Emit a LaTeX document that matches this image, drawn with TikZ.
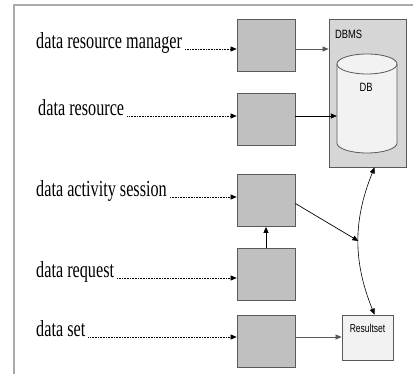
\documentclass[tikz,border=0pt]{standalone}
\usepackage{fontspec}
\setmainfont{Liberation Serif}
\newfontfamily\narrowsans{Liberation Sans}
\usetikzlibrary{positioning,arrows.meta}

\definecolor{boxgray}{RGB}{192,192,192}
\definecolor{dbmsgray}{RGB}{214,214,214}
\definecolor{palegray}{RGB}{242,242,242}
\definecolor{edgegray}{RGB}{90,90,90}
\definecolor{framegray}{RGB}{170,170,170}

\newcommand{\squeeze}[2]{\scalebox{#1}[1]{#2}}

\begin{document}
\begin{tikzpicture}[x=1pt,y=-1pt,
    tip/.style={-{Triangle[length=6pt,width=5pt]}},
    lbl/.style={anchor=base west,inner sep=3pt,font=\fontsize{23}{23}\selectfont},
    part/.style={draw=edgegray,fill=boxgray,line width=0.8pt,minimum width=58pt,minimum height=52pt,inner sep=0},
    small/.style={font=\narrowsans\fontsize{12}{12}\selectfont,inner sep=0}]
  \useasboundingbox (0,0) rectangle (413,379);
  % page frame
  \draw[framegray,line width=1.2pt] (14,374) -- (14,5) -- (413,5);

  % labels on the left
  \node[lbl] (mgrlbl) at (33,49)  {\squeeze{0.705}{data resource manager}};
  \node[lbl] (reslbl) at (35,116) {\squeeze{0.705}{data resource}};
  \node[lbl] (actlbl) at (33,197) {\squeeze{0.705}{data activity session}};
  \node[lbl] (reqlbl) at (33,278) {\squeeze{0.705}{data request}};
  \node[lbl] (setlbl) at (33,337) {\squeeze{0.705}{data set}};

  % gray boxes
  \node[part] (mgrbox) at (266,45)  {};
  \node[part] (resbox) at (266,119) {};
  \node[part] (actbox) at (266,200.5) {};
  \node[part] (reqbox) at (266,274.5) {};
  \node[part] (setbox) at (266,341) {};

  % DBMS with its DB cylinder
  \node[draw=edgegray,fill=dbmsgray,line width=0.8pt,minimum width=77pt,minimum height=148pt,inner sep=0] (dbms) at (367.5,93) {};
  \node[small,anchor=west] (dbmslbl) at (335,34) {\squeeze{0.78}{DBMS}};
  \node[minimum width=60pt,minimum height=99pt,inner sep=0] (db) at (367,103.5) {};
  \fill[palegray] (337,64) -- (337,143) arc[start angle=180,end angle=360,x radius=30pt,y radius=10pt] -- (397,64) arc[start angle=0,end angle=180,x radius=30pt,y radius=10pt] -- cycle;
  \draw[edgegray,line width=0.8pt] (337,64) -- (337,143) arc[start angle=180,end angle=360,x radius=30pt,y radius=10pt] -- (397,64);
  \draw[edgegray,line width=0.8pt] (367,64) ellipse[x radius=30pt,y radius=10pt];
  \node[small] (dblbl) at (366,87) {\squeeze{0.78}{DB}};

  \node[draw=edgegray,fill=palegray,line width=0.8pt,minimum width=51pt,minimum height=45pt,inner sep=0] (resultset) at (367.5,337.5) {};
  \node[small,font=\narrowsans\fontsize{11.5}{11.5}\selectfont] (rslbl) at (367.5,328) {\squeeze{0.74}{Resultset}};

  % dotted inputs
  \foreach \l/\b in {mgrlbl/mgrbox,reslbl/resbox,actlbl/actbox,reqlbl/reqbox,setlbl/setbox}
    \draw[tip,densely dotted,line width=0.6pt] (\l.base east) -- (\l.base east -| \b.west);

  % solid connectors
  \draw[tip,edgegray,line width=0.7pt] (mgrbox.east |- mgrlbl.base) -- (dbms.west |- mgrlbl.base);
  \draw[tip,line width=0.7pt] (resbox.east |- reslbl.base) -- (db.west |- reslbl.base);
  \draw[tip,line width=0.7pt] (reqbox.north) -- (actbox.south);
  \draw[tip,edgegray,line width=0.7pt] (setbox.east |- setlbl.base) -- (resultset.west |- setlbl.base);
  \draw[{Triangle[length=6pt,width=5pt]}-{Triangle[length=6pt,width=5pt]},line width=0.6pt]
    ([xshift=7pt]dbms.south) to[bend right=22] coordinate[pos=0.5] (mid) ([xshift=7pt]resultset.north);
  \draw[tip,line width=0.7pt] ([yshift=-3pt]actbox.east) -- (mid);
\end{tikzpicture}
\end{document}
